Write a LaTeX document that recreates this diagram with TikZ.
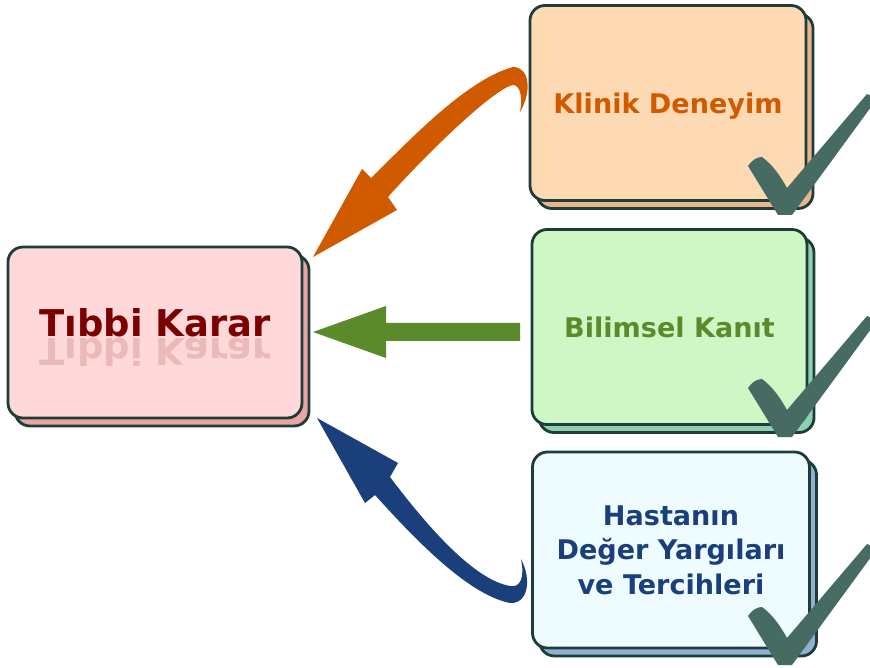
\documentclass[tikz,border=0pt]{standalone}
\usepackage{fontspec}
\setmainfont{DejaVu Sans}
\usepackage{xcolor}
\usepackage{tikz}
\usetikzlibrary{shadows}

\definecolor{edge}{HTML}{1E3D39}
\definecolor{tkfill}{HTML}{FFD9D9}
\definecolor{tkshade}{HTML}{E9A5A5}
\definecolor{tktext}{HTML}{7B0000}
\definecolor{tkmirror}{HTML}{EAB9B9}
\definecolor{kdfill}{HTML}{FDDAB4}
\definecolor{kdshade}{HTML}{E7B48C}
\definecolor{kdtext}{HTML}{D05A00}
\definecolor{bkfill}{HTML}{CFF7C6}
\definecolor{bkshade}{HTML}{8ECFB0}
\definecolor{bktext}{HTML}{5A8A2A}
\definecolor{hdfill}{HTML}{EEFCFF}
\definecolor{hdshade}{HTML}{8FB0D0}
\definecolor{hdtext}{HTML}{1B3F7B}
\definecolor{tickcol}{HTML}{466B63}

\begin{document}
\begin{tikzpicture}[x=0.2mm,y=-0.2mm]
            \tikzset{
                card/.style={
                    draw=edge,
                    line width=1.6pt,
                    rounded corners=3mm,
                    align=center,
                    text depth=0pt,
                    font=\fontsize{15.4}{19.8}\selectfont\bfseries
                }
            }
            \tikzset{
                stack/.style={
                    copy shadow={shadow xshift=1.4mm, shadow yshift=-1.6mm,
                        draw=edge, line width=1.6pt, fill=#1}
                }
            }
            \tikzset{
                tickmark/.pic={
                    \fill[tickcol] (0,0) -- (-30,-49)
                        .. controls (-26,-55) and (-21,-58) .. (-16,-58)
                        .. controls (-5,-50) and (3,-38) .. (9,-27)
                        -- (89,-121) -- (96,-118) -- (93,-108) -- (14,0) -- cycle;
                }
            }

            \useasboundingbox (0,0) rectangle (870,668);

            % boxes
            \node[card, stack=tkshade, fill=tkfill, minimum width=58.8mm, minimum height=34.2mm] (TK) at (155,332.5) {};
            \node[card, stack=kdshade, fill=kdfill, text=kdtext, minimum width=55.2mm, minimum height=39mm] (KD) at (668,103) {Klinik Deneyim};
            \node[card, stack=bkshade, fill=bkfill, text=bktext, minimum width=55mm, minimum height=39mm] (BK) at (669.5,327) {Bilimsel Kanıt};
            \node[card, stack=hdshade, fill=hdfill, text=hdtext, minimum width=55.4mm, minimum height=39.2mm] (HD) at (671,550) {Hastanın\\Değer Yargıları\\ve Tercihleri};

            \node[anchor=base, text=tktext, font=\fontsize{21}{24}\selectfont\bfseries] (title) at (155,336) {Tıbbi Karar};
            \node[anchor=base, yscale=-1, text=tkmirror, font=\fontsize{21}{24}\selectfont\bfseries] (mirror) at (155,339) {Tıbbi Karar};

            % arrows
            \fill[kdtext] (313,257) -- (362,169) -- (371,178)
                .. controls (405,145) and (465,80) .. (513,67)
                .. controls (530,67) and (532,92) .. (520,112)
                .. controls (523,97) and (520,85) .. (513,85)
                .. controls (495,88) and (430,150) .. (388,197)
                -- (397,210) -- cycle;
            \fill[bktext] (313,332) -- (386,306) -- (386,323) -- (520,323)
                -- (520,341) -- (386,341) -- (386,358) -- cycle;
            \fill[hdtext] (317,418) -- (365,503) -- (375,495)
                .. controls (420,545) and (470,595) .. (510,603)
                .. controls (528,604) and (532,580) .. (521,559)
                .. controls (525,578) and (520,588) .. (510,586)
                .. controls (475,580) and (430,530) .. (390,477)
                -- (398,463) -- cycle;

            % ticks
            \pic at (778,215) {tickmark};
            \pic at (778,437) {tickmark};
            \pic at (778,665) {tickmark};
        \end{tikzpicture}
\end{document}
